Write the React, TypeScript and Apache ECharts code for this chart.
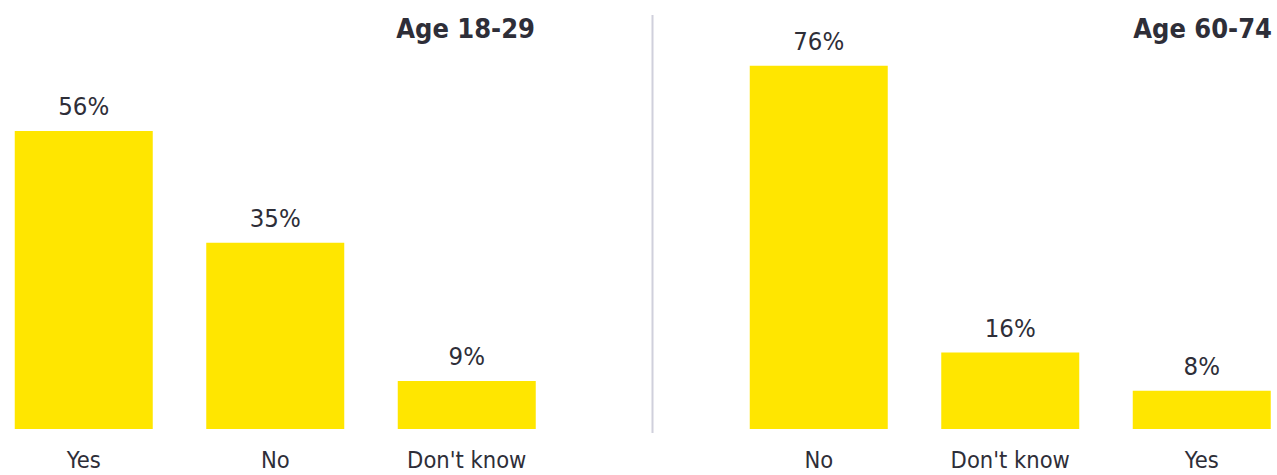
import React, { useEffect, useRef } from "react";
import * as echarts from "echarts";

const leftCategories = ["Yes", "No", "Don't know"];
const leftValues = [56, 35, 9];
const leftTitle = "Age 18-29";

const rightCategories = ["No", "Don't know", "Yes"];
const rightValues = [76, 16, 8];
const rightTitle = "Age 60-74";

const YELLOW = "#ffe600";
const TEXT = "#2e2e38";
const FONT = "'DejaVu Sans Condensed', 'DejaVu Sans', sans-serif";

export default function App() {
  const ref = useRef<HTMLDivElement>(null);
  useEffect(() => {
    if (!ref.current) return;
    const chart = echarts.init(ref.current, null, { renderer: "svg" });
    const xAxisBase = {
      type: "category" as const,
      axisLine: { show: false },
      axisTick: { show: false },
      axisLabel: { color: TEXT, fontSize: 23.5, fontFamily: FONT, margin: 19 },
    };
    const yAxisBase = {
      type: "value" as const,
      min: 0,
      show: false,
      splitLine: { show: false },
    };
    const seriesBase = {
      type: "bar" as const,
      barWidth: 138,
      itemStyle: { color: YELLOW },
      label: {
        show: true,
        position: "top" as const,
        distance: 12,
        formatter: "{c}%",
        color: TEXT,
        fontSize: 25.5,
        fontFamily: FONT,
      },
    };
    chart.setOption({
      animation: false,
      backgroundColor: "#ffffff",
      grid: [
        { left: -12, width: 574.5, top: 40, bottom: 46, outerBoundsMode: "none", containLabel: false },
        { left: 723, width: 574.5, top: 40, bottom: 46, outerBoundsMode: "none", containLabel: false },
      ],
      xAxis: [
        { ...xAxisBase, gridIndex: 0, data: leftCategories },
        { ...xAxisBase, gridIndex: 1, data: rightCategories },
      ],
      yAxis: [
        { ...yAxisBase, gridIndex: 0, max: 73.1 },
        { ...yAxisBase, gridIndex: 1, max: 81.4 },
      ],
      series: [
        { ...seriesBase, xAxisIndex: 0, yAxisIndex: 0, data: leftValues },
        { ...seriesBase, xAxisIndex: 1, yAxisIndex: 1, data: rightValues },
      ],
      graphic: [
        {
          type: "line",
          shape: { x1: 652.5, y1: 15, x2: 652.5, y2: 433 },
          style: { stroke: "#d0d0dc", lineWidth: 2 },
        },
        {
          type: "text",
          x: 535,
          y: 28,
          style: {
            text: leftTitle,
            fill: TEXT,
            font: `bold 27px ${FONT}`,
            textAlign: "right",
            textVerticalAlign: "middle",
          },
        },
        {
          type: "text",
          x: 1272,
          y: 28,
          style: {
            text: rightTitle,
            fill: TEXT,
            font: `bold 27px ${FONT}`,
            textAlign: "right",
            textVerticalAlign: "middle",
          },
        },
      ],
    });
    return () => chart.dispose();
  }, []);
  return (
    <div
      ref={ref}
      style={{ position: "absolute", left: 0, top: 0, width: 1277, height: 475 }}
    />
  );
}
